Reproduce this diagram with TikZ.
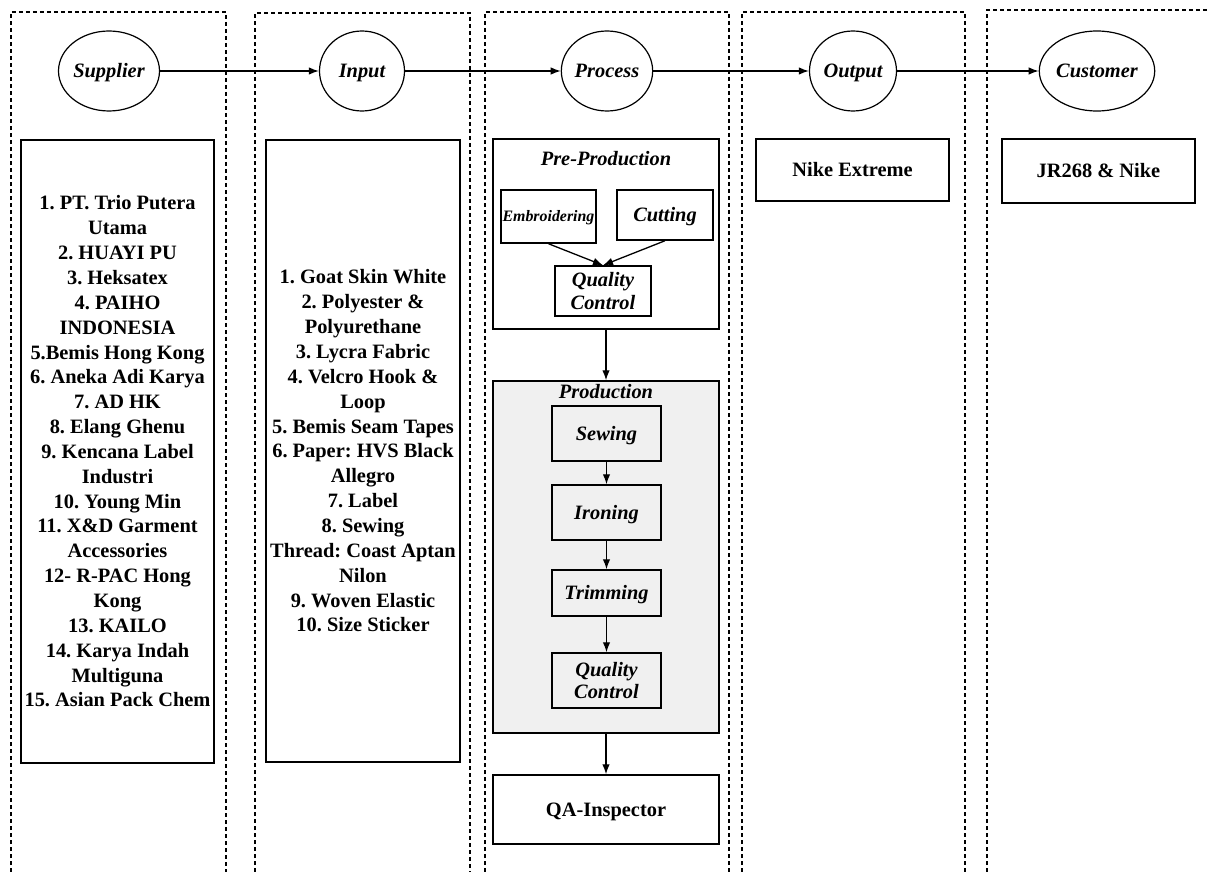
\documentclass[tikz,border=0pt]{standalone}
\usepackage{fontspec}
\setmainfont{Liberation Serif}
\usetikzlibrary{shapes.geometric,arrows.meta}
\definecolor{prodgray}{RGB}{240,240,240}
\frenchspacing
\begin{document}
\begin{tikzpicture}[x=1pt,y=-1pt,
  lane/.style={line width=2pt,dash pattern=on 4pt off 3pt},
  oval/.style={ellipse,draw,line width=1.2pt,minimum height=80pt,inner sep=0pt,text height=13.5pt,text depth=0pt,font=\fontsize{20.4}{22}\selectfont\bfseries\itshape},
  listbox/.style={draw,line width=1.5pt,align=center,inner sep=0pt,font=\fontsize{20.4}{24.85}\selectfont\bfseries},
  onebox/.style={listbox,text height=13.5pt,text depth=0pt},
  stepbox/.style={draw,line width=1.5pt,align=center,inner sep=0pt,font=\fontsize{20.4}{22.5}\selectfont\bfseries\itshape},
  onestep/.style={stepbox,text height=13.5pt,text depth=0pt},
  titletext/.style={inner sep=0pt,text height=13.5pt,text depth=0pt,font=\fontsize{20.4}{22.5}\selectfont\bfseries\itshape},
  arr/.style={-{Latex[length=10pt,width=7.5pt]},line width=1.3pt}]
\useasboundingbox (0,0) rectangle (1208,872);
% lanes
\draw[lane] (11,872) -- (11,12) -- (226,12) -- (226,872);
\draw[lane] (255,872) -- (255,13) -- (470,13) -- (470,872);
\draw[lane] (485,872) -- (485,12) -- (729,12) -- (729,872);
\draw[lane] (742,872) -- (742,12) -- (965,12) -- (965,872);
\draw[lane] (987,872) -- (987,10) -- (1210,10);
% ovals
\node[oval,minimum width=100pt] (sup) at (109,71) {Supplier};
\node[oval,minimum width=85pt] (inp) at (362,71) {Input};
\node[oval,minimum width=85pt] (pro) at (607,71) {Process};
\node[oval,minimum width=87pt] (out) at (853,71) {Output};
\node[oval,minimum width=86pt] (cus) at (1097,71) {Customer};
\draw[arr] (sup) -- (inp);
\draw[arr] (inp) -- (pro);
\draw[arr] (pro) -- (out);
\draw[arr] (out) -- (cus);
% lists
\node[listbox,minimum width=193pt,minimum height=623pt] (suplist) at (117.5,451.5)
 {1. PT. Trio Putera\\Utama\\2. HUAYI PU\\3. Heksatex\\4. PAIHO\\INDONESIA\\5.Bemis Hong Kong\\6. Aneka Adi Karya\\7. AD HK\\8. Elang Ghenu\\9. Kencana Label\\Industri\\10. Young Min\\11. X\&D Garment\\Accessories\\12- R-PAC Hong\\Kong\\13. KAILO\\14. Karya Indah\\Multiguna\\15. Asian Pack Chem};
\node[listbox,minimum width=194pt,minimum height=622pt] (inplist) at (363,451)
 {1. Goat Skin White\\2. Polyester \&\\Polyurethane\\3. Lycra Fabric\\4. Velcro Hook \&\\Loop\\5. Bemis Seam Tapes\\6. Paper: HVS Black\\Allegro\\7. Label\\8. Sewing\\Thread: Coast Aptan\\Nilon\\9. Woven Elastic\\10. Size Sticker};
% pre-production
\node[draw,line width=1.5pt,minimum width=226pt,minimum height=190pt] (pre) at (606,234) {};
\node[titletext] (pretitle) at (606,159) {Pre-Production};
\node[onestep,minimum width=95pt,minimum height=53pt,text height=10.5pt,font=\fontsize{15.9}{18}\selectfont\bfseries\itshape] (emb) at (548.5,216.5) {Embroidering};
\node[onestep,minimum width=96pt,minimum height=50pt] (cut) at (665,215) {Cutting};
\node[stepbox,minimum width=96pt,minimum height=50pt] (qc1) at (603,291) {Quality\\Control};
\draw[arr] (emb.south) -- (qc1.north);
\draw[arr] (cut.south) -- (qc1.north);
% production
\node[draw,line width=1.5pt,fill=prodgray,minimum width=226pt,minimum height=352pt] (prod) at (606,557) {};
\node[titletext] (prodtitle) at (606,392) {Production};
\node[onestep,fill=prodgray,minimum width=109pt,minimum height=55pt] (sew) at (606.5,433.5) {Sewing};
\node[onestep,fill=prodgray,minimum width=109pt,minimum height=55pt] (iron) at (606.5,512.5) {Ironing};
\node[onestep,fill=prodgray,minimum width=109pt,minimum height=46pt] (trim) at (606.5,593) {Trimming};
\node[stepbox,fill=prodgray,minimum width=109pt,minimum height=55pt] (qc2) at (606.5,680.5) {Quality\\Control};
\draw[arr] (sew) -- (iron);
\draw[arr] (iron) -- (trim);
\draw[arr] (trim) -- (qc2);
\draw[arr] (pre.south) -- (prod.north);
% QA
\node[onebox,minimum width=226pt,minimum height=69pt] (qa) at (606,809.5) {QA-Inspector};
\draw[arr] (prod.south) -- (qa.north);
% output / customer boxes
\node[onebox,minimum width=193pt,minimum height=62pt] (nike) at (852.5,170) {Nike Extreme};
\node[onebox,minimum width=193pt,minimum height=64pt] (jr) at (1098.5,171) {JR268 \& Nike};
\end{tikzpicture}
\end{document}
